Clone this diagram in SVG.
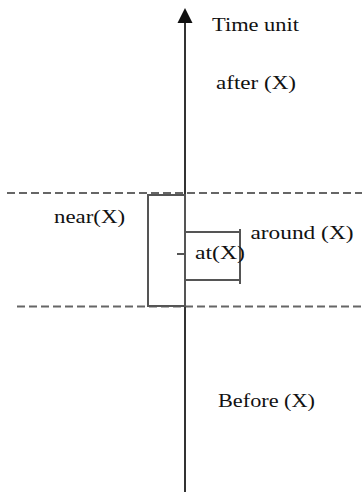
<svg xmlns="http://www.w3.org/2000/svg" width="362" height="494" viewBox="0 0 362 494">
<style>
text{font-family:"Liberation Serif","Times New Roman",serif;font-size:19.5px;fill:#111}
.dash{stroke:#666;stroke-width:2;stroke-dasharray:8,4;fill:none}
.box{stroke:#555;stroke-width:2;fill:none}
.axis{stroke:#333;stroke-width:2;fill:none}
</style>
<g id="connectors">
<line class="dash" x1="7" y1="193" x2="362" y2="193"/>
<line class="dash" x1="17" y1="306.5" x2="362" y2="306.5"/>
<line class="axis" x1="185" y1="492" x2="185" y2="22"/>
<path d="M177.5,23 L185,8 L192.5,23 Z" fill="#111"/>
</g>
<g id="near">
<rect class="box" x="148" y="195" width="37" height="111"/>
<text x="54" y="223" textLength="71" lengthAdjust="spacingAndGlyphs">near(X)</text>
</g>
<g id="around">
<line class="box" x1="185" y1="232" x2="240" y2="232"/>
<line class="box" x1="185" y1="280" x2="240" y2="280"/>
<line class="box" x1="240" y1="229" x2="240" y2="284"/>
<text x="250.5" y="239" textLength="103" lengthAdjust="spacingAndGlyphs">around (X)</text>
</g>
<g id="at">
<line class="box" x1="177" y1="254" x2="186" y2="254"/>
<text x="195" y="259" textLength="50" lengthAdjust="spacingAndGlyphs">at(X)</text>
</g>
<g id="time">
<text x="212" y="31" textLength="87" lengthAdjust="spacingAndGlyphs">Time unit</text>
</g>
<g id="after">
<text x="216" y="89" textLength="80" lengthAdjust="spacingAndGlyphs">after (X)</text>
</g>
<g id="before">
<text x="218" y="407" textLength="97" lengthAdjust="spacingAndGlyphs">Before (X)</text>
</g>
</svg>
